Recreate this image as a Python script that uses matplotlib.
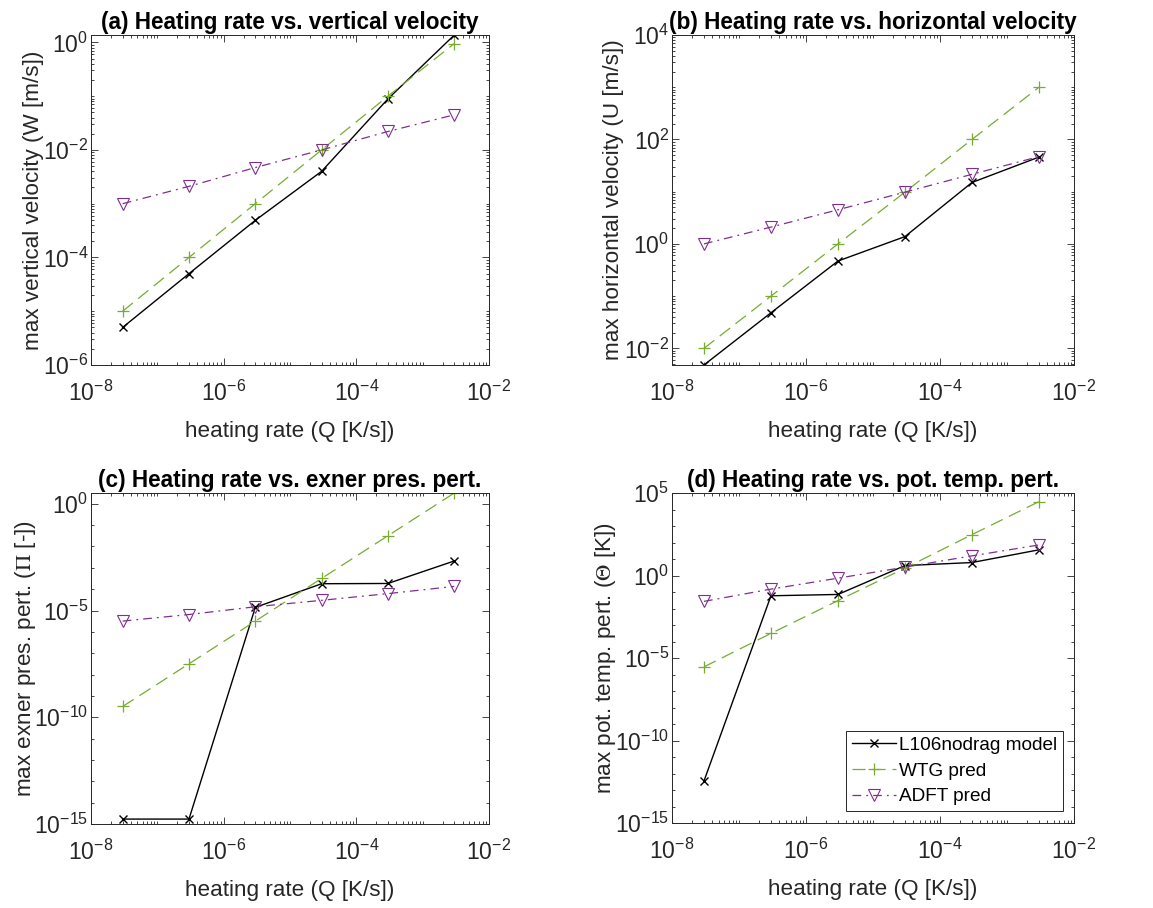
import numpy as np
import matplotlib
matplotlib.use('Agg')
import matplotlib.pyplot as plt
from matplotlib.ticker import LogLocator, NullFormatter, LogFormatterMathtext

plt.rcParams['font.family'] = ['Liberation Sans', 'DejaVu Sans']
plt.rcParams['mathtext.fontset'] = 'custom'
plt.rcParams['mathtext.rm'] = 'Liberation Sans'
plt.rcParams['mathtext.it'] = 'Liberation Sans:italic'
plt.rcParams['mathtext.bf'] = 'Liberation Sans:bold'

# heating rates (K/s)
Q = [3e-8, 3e-7, 3e-6, 3e-5, 3e-4, 3e-3]

# (a) max vertical velocity
w_model = [5.0e-6, 5.0e-5, 4.9e-4, 4.0e-3, 8.9e-2, 1.37]
w_wtg = [1e-5, 1e-4, 1e-3, 1e-2, 1e-1, 0.95]
w_adft = [1.0e-3, 2.1e-3, 4.7e-3, 1.0e-2, 2.2e-2, 4.5e-2]

# (b) max horizontal velocity
u_model = [4.8e-3, 4.8e-2, 0.47, 1.38, 15.0, 46.0]
u_wtg = [1e-2, 1e-1, 1.0, 9.8, 100.0, 1000.0]
u_adft = [1.0, 2.1, 4.5, 9.8, 21.5, 47.0]

# (c) max exner pressure perturbation
pi_model = [1.7e-15, 1.7e-15, 1.4e-5, 1.8e-4, 1.85e-4, 2.1e-3]
pi_wtg = [3.2e-10, 3.2e-8, 3.2e-6, 3.2e-4, 3.2e-2, 3.2]
pi_adft = [3.2e-6, 6.5e-6, 1.5e-5, 3.0e-5, 6.2e-5, 1.35e-4]

# (d) max potential temperature perturbation
th_model = [3.5e-13, 0.059, 0.071, 4.0, 6.1, 36.0]
th_wtg = [2.9e-6, 3.1e-4, 3.0e-2, 2.8, 300.0, 3.0e4]
th_adft = [0.027, 0.15, 0.69, 3.2, 15.5, 71.0]

labels = ['L106nodrag model', 'WTG pred', 'ADFT pred']
titles = ['(a) Heating rate vs. vertical velocity',
          '(b) Heating rate vs. horizontal velocity',
          '(c) Heating rate vs. exner pres. pert.',
          '(d) Heating rate vs. pot. temp. pert.']
ylabels = ['max vertical velocity (W [m/s])',
           'max horizontal velocity (U [m/s])',
           r'max exner pres. pert. ($\Pi$ [-])',
           r'max pot. temp. pert. ($\Theta$ [K])']

green = '#77AC30'
purple = '#7E2F8E'
grey = '#262626'

W, H = 1153, 908
fig = plt.figure(figsize=(W / 100, H / 100), dpi=100)

# axes boxes in pixels: left, top, right, bottom
boxes = [(91, 35, 489, 365), (672, 35, 1074, 365),
         (91, 493, 489, 824), (672, 493, 1074, 823)]
ylims = [(1e-6, 1.37), (4.8e-3, 1e4), (1e-15, 3.2), (1e-15, 1e5)]
ystep = [2, 2, 5, 5]
ylab_x = [-0.118, -0.119, -0.133, -0.134]

data = [(w_model, w_wtg, w_adft), (u_model, u_wtg, u_adft),
        (pi_model, pi_wtg, pi_adft), (th_model, th_wtg, th_adft)]

axes = []
for i in range(4):
    l, t, r, b = boxes[i]
    ax = fig.add_axes([l / W, 1 - b / H, (r - l) / W, (b - t) / H])
    m, wtg, adft = data[i]
    ax.loglog(Q, m, '-', color='k', lw=1.0, marker='x', ms=6, mew=1.0,
              label=labels[0])
    ax.loglog(Q, wtg, '--', color=green, lw=0.9, marker='+', ms=9, mew=0.9,
              dashes=(10.5, 5.5), label=labels[1])
    ax.loglog(Q, adft, '-.', color=purple, lw=0.9, marker='v', ms=9,
              mfc='none', mew=0.8, dashes=(7, 4, 1.5, 4), label=labels[2])
    ax.set_xlim(1e-8, 1e-2)
    ax.set_ylim(*ylims[i])

    ax.xaxis.set_major_locator(LogLocator(base=100.0, numticks=10))
    ax.xaxis.set_minor_locator(LogLocator(base=10.0, subs=np.arange(1, 10), numticks=50))
    ax.xaxis.set_minor_formatter(NullFormatter())
    ax.xaxis.set_major_formatter(LogFormatterMathtext(base=10.0))
    if ystep[i] == 2:
        ax.yaxis.set_major_locator(LogLocator(base=100.0, numticks=10))
        ax.yaxis.set_minor_locator(LogLocator(base=10.0, subs=np.arange(1, 10), numticks=50))
    else:
        ax.yaxis.set_major_locator(LogLocator(base=1e5, numticks=10))
        ax.yaxis.set_minor_locator(LogLocator(base=10.0, subs=[1.0], numticks=50))
    ax.yaxis.set_minor_formatter(NullFormatter())
    ax.yaxis.set_major_formatter(LogFormatterMathtext(base=10.0))

    ax.tick_params(which='both', direction='in', top=True, right=True,
                   colors=grey, labelsize=16.5, width=0.6)
    ax.tick_params(which='major', length=5)
    ax.tick_params(which='minor', length=2.5)
    ax.tick_params(axis='x', which='major', pad=11)
    ax.tick_params(axis='y', which='major', pad=2)
    for s in ax.spines.values():
        s.set_color(grey)
        s.set_linewidth(0.7)

    ax.set_title(titles[i], fontsize=16.3, fontweight='bold', pad=4)
    ax.set_xlabel('heating rate (Q [K/s])', fontsize=16.2, color=grey, labelpad=11)
    ax.set_ylabel(ylabels[i], fontsize=16.2, color=grey,
                  math_fontfamily='stix')
    ax.yaxis.set_label_coords(ylab_x[i], 0.5)
    axes.append(ax)

leg = axes[3].legend(loc='lower right', bbox_to_anchor=(0.973, 0.036),
                     fontsize=13.7, handlelength=2.3, handletextpad=0.2,
                     borderpad=0.3, labelspacing=0.45, fancybox=False,
                     framealpha=1, borderaxespad=0)
leg.get_frame().set_edgecolor(grey)
leg.get_frame().set_linewidth(0.7)

fig.savefig('out.png', dpi=100, facecolor='white')
